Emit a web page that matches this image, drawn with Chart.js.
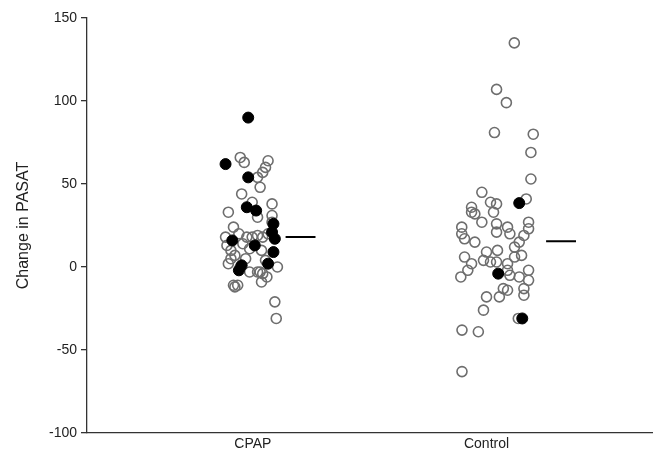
<!DOCTYPE html>
<html>
<head>
<meta charset="utf-8">
<script src="https://cdn.jsdelivr.net/npm/chart.js@4.4.1/dist/chart.umd.min.js"></script>
<style>
  html, body { margin: 0; padding: 0; background: #fff; }
  #wrap { width: 659px; height: 458px; }
</style>
</head>
<body>
<div id="wrap"><canvas id="grafico" width="659" height="458"></canvas></div>
<script>
// categorias e posições no eixo x
const categorias = ["CPAP", "Control"];
const posicoes = [1, 2];

// CPAP - pontos abertos (valor) e desvio horizontal (jitter)
const cpapAbertosY = [66, 63, 64, 60, 57, 54, 48, 44, 39, 38, 33, 31, 30, 27, 24, 18, 13, 10, 7, 2,
  18, 18, 19, 18, 14, 11, 10, 0, -3, -3, -4, -6, -9, -11, -11, -12, -21, -31, 20, 5, 4, 0, 5, -3, 20];
const cpapAbertosJit = [-0.054, -0.037, 0.065, 0.054, 0.042, 0.02, 0.031, -0.048, -0.003, 0.082, -0.105, 0.082, 0.02, 0.082, -0.083, -0.117, -0.111, -0.094, -0.077, -0.105,
  -0.026, -0.003, 0.02, 0.042, -0.043, -0.014, 0.037, 0.105, 0.02, 0.031, 0.042, 0.06, 0.037, -0.083, -0.065, -0.077, 0.094, 0.1, -0.06, -0.031, 0.054, -0.054, -0.094, -0.014, 0.065];

// CPAP - pontos cheios
const cpapCheiosY = [90, 62, 54, 36, 34, 26, 21, 17, 16, 13, 9, 2, 1, -2];
const cpapCheiosJit = [-0.02, -0.117, -0.02, -0.026, 0.014, 0.088, 0.082, 0.094, -0.088, 0.008, 0.088, 0.065, -0.048, -0.06];

// Control - pontos abertos
const controlAbertosY = [135, 107, 99, 81, 80, 69, 53, 45, 39, 38, 41, 36, 33, 32, 33, 27, 26, 24, 27, 23,
  24, 20, 17, 15, 21, 20, 19, 15, 12, 10, 9, 7, 6, 6, 4, 3, 3, 2, 2, -2,
  -2, -2, -6, -5, -6, -8, -13, -13, -18, -18, -14, -17, -26, -31, -38, -39, -63];
const controlAbertosJit = [0.119, 0.043, 0.085, 0.034, 0.2, 0.19, 0.19, -0.02, 0.017, 0.043, 0.17, -0.064, -0.064, -0.05, 0.03, -0.02, 0.043, -0.106, 0.18, 0.18,
  0.09, -0.106, -0.094, -0.05, 0.043, 0.1, 0.16, 0.14, 0.12, 0.047, 0, 0.15, 0.12, -0.094, -0.013, 0.017, 0.043, 0.09, -0.064, 0.09,
  0.18, -0.08, -0.11, 0.1, 0.14, 0.18, 0.072, 0.16, 0, 0.055, 0.09, 0.16, -0.013, 0.136, -0.105, -0.035, -0.105];

// Control - pontos cheios
const controlCheiosY = [38.5, -4, -31];
const controlCheiosJit = [0.14, 0.05, 0.153];

// medianas (valor, início e fim do traço relativo à categoria)
const medianas = [18, 15.5];
const medianaInicio = [0.14, 0.255];
const medianaFim = [0.268, 0.383];

// eixo y
const yMin = -100;
const yMax = 150;
const yPasso = 50;
const tituloY = "Change in PASAT";

function juntarPontos(base, jit, ys) {
  return ys.map((y, i) => ({ x: base + jit[i], y: y }));
}

const corAberto = "#6e6e6e";
const corEixo = "#333333";
const fonte = "'Liberation Sans', Arial, sans-serif";

const datasets = [
  {
    label: "CPAP cheios",
    data: juntarPontos(posicoes[0], cpapCheiosJit, cpapCheiosY),
    backgroundColor: "#000",
    borderColor: "#000",
    pointRadius: 5.5,
    borderWidth: 1,
    order: 0,
  },
  {
    label: "Control cheios",
    data: juntarPontos(posicoes[1], controlCheiosJit, controlCheiosY),
    backgroundColor: "#000",
    borderColor: "#000",
    pointRadius: 5.5,
    borderWidth: 1,
    order: 0,
  },
  {
    label: "CPAP abertos",
    data: juntarPontos(posicoes[0], cpapAbertosJit, cpapAbertosY),
    backgroundColor: "rgba(255,255,255,0)",
    borderColor: corAberto,
    pointRadius: 5,
    borderWidth: 1.6,
    order: 1,
  },
  {
    label: "Control abertos",
    data: juntarPontos(posicoes[1], controlAbertosJit, controlAbertosY),
    backgroundColor: "rgba(255,255,255,0)",
    borderColor: corAberto,
    pointRadius: 5,
    borderWidth: 1.6,
    order: 1,
  },
];

// traços da mediana
medianas.forEach((m, i) => {
  datasets.push({
    type: "line",
    label: "Mediana " + categorias[i],
    data: [
      { x: posicoes[i] + medianaInicio[i], y: m },
      { x: posicoes[i] + medianaFim[i], y: m },
    ],
    borderColor: "#000",
    borderWidth: 2,
    pointRadius: 0,
    showLine: true,
    fill: false,
    order: 2,
  });
});

const ctx = document.getElementById("grafico").getContext("2d");
new Chart(ctx, {
  type: "scatter",
  data: { datasets: datasets },
  options: {
    responsive: false,
    animation: false,
    layout: { padding: { top: 18, right: 2, left: 14, bottom: 0 } },
    plugins: {
      legend: { display: false },
      tooltip: { enabled: false },
    },
    scales: {
      x: {
        type: "linear",
        min: 0.29,
        max: 2.71,
        afterBuildTicks: (scale) => {
          scale.ticks = posicoes.map((p) => ({ value: p }));
        },
        afterFit: (scale) => {
          scale.height = 25;
        },
        ticks: {
          callback: (v) => categorias[posicoes.indexOf(v)] || "",
          color: "#222",
          font: { family: fonte, size: 14 },
          padding: 3,
          maxRotation: 0,
        },
        grid: { display: false, drawTicks: false },
        border: { display: true, color: corEixo, width: 1.3 },
      },
      y: {
        min: yMin,
        max: yMax,
        ticks: {
          stepSize: yPasso,
          color: "#222",
          font: { family: fonte, size: 14 },
          padding: 4,
        },
        afterFit: (scale) => {
          scale.width = 73;
        },
        grid: {
          display: true,
          drawOnChartArea: false,
          drawTicks: true,
          tickLength: 6,
          color: corEixo,
          lineWidth: 1.3,
        },
        border: { display: true, color: corEixo, width: 1.3 },
        title: {
          display: true,
          text: tituloY,
          color: "#222",
          font: { family: fonte, size: 16 },
          padding: { top: 0, bottom: 4 },
        },
      },
    },
  },
});
</script>
</body>
</html>
